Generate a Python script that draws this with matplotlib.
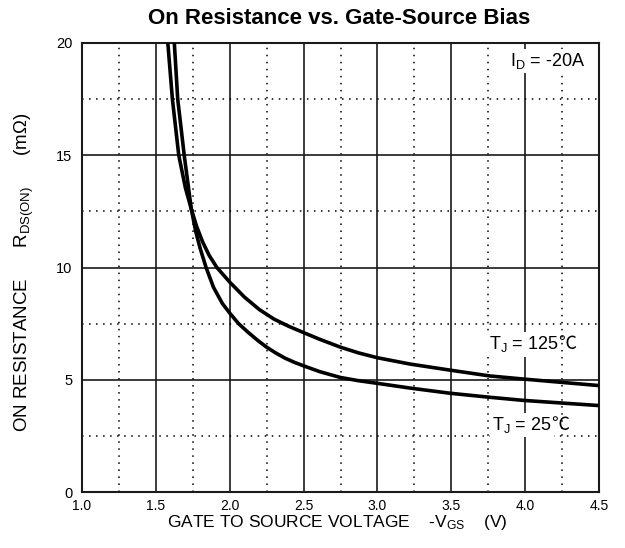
import matplotlib
matplotlib.use('Agg')
import matplotlib.pyplot as plt

# ---- data ----
vgs_25 = [1.625, 1.648, 1.692, 1.74, 1.77, 1.80, 1.84, 1.89, 1.95, 2.0, 2.06, 2.125, 2.19, 2.25, 2.31,
          2.375, 2.44, 2.5, 2.61, 2.75, 2.87, 3.0, 3.22, 3.49, 3.76, 3.99, 4.5]
r_25 = [20.0, 17.5, 15.0, 12.6, 11.6, 10.85, 10.0, 9.12, 8.4, 7.97, 7.5, 7.11, 6.75, 6.45, 6.2,
        5.96, 5.77, 5.62, 5.36, 5.1, 4.96, 4.84, 4.63, 4.4, 4.22, 4.08, 3.85]

vgs_125 = [1.581, 1.612, 1.655, 1.70, 1.74, 1.775, 1.816, 1.86, 1.913, 2.0, 2.1, 2.2, 2.3, 2.4, 2.5,
           2.61, 2.75, 2.87, 3.0, 3.22, 3.49, 3.76, 3.99, 4.5]
r_125 = [20.0, 17.5, 15.0, 13.55, 12.6, 11.85, 11.15, 10.55, 10.0, 9.35, 8.68, 8.13, 7.7, 7.38, 7.1,
         6.8, 6.45, 6.2, 5.98, 5.7, 5.43, 5.17, 5.03, 4.74]

x_ticks = [1.0, 1.5, 2.0, 2.5, 3.0, 3.5, 4.0, 4.5]
x_tick_labels = ['1.0', '1.5', '2.0', '2.5', '3.0', '3.5', '4.0', '4.5']
y_ticks = [0, 5, 10, 15, 20]
x_minor = [1.25, 1.75, 2.25, 2.75, 3.25, 3.75, 4.25]
y_minor = [2.5, 7.5, 12.5, 17.5]

title = 'On Resistance vs. Gate-Source Bias'
xlabel = 'GATE TO SOURCE VOLTAGE    -V$_{GS}$    (V)'
ylabel = 'ON RESISTANCE      R$_{DS(ON)}$      (mΩ)'
label_id = 'I$_{D}$ = -20A'
label_125 = 'T$_{J}$ = 125'
label_25 = 'T$_{J}$ = 25'
deg_c = '℃'

plt.rcParams['font.family'] = ['Liberation Sans', 'Noto Sans CJK SC', 'DejaVu Sans']
plt.rcParams['mathtext.fontset'] = 'custom'
plt.rcParams['mathtext.rm'] = 'Liberation Sans'
plt.rcParams['mathtext.it'] = 'Liberation Sans'
plt.rcParams['mathtext.default'] = 'regular'

W, H = 625, 548
fig = plt.figure(figsize=(W / 100, H / 100), dpi=100)
ax = fig.add_axes([82 / W, 56 / H, 517 / W, 449 / H])

ax.set_xlim(1.0, 4.5)
ax.set_ylim(0, 20)
ax.set_xticks(x_ticks)
ax.set_xticklabels(x_tick_labels)
ax.set_yticks(y_ticks)
ax.set_xticks(x_minor, minor=True)
ax.set_yticks(y_minor, minor=True)
ax.tick_params(which='both', length=0)
ax.tick_params(axis='x', pad=5, labelsize=10)
ax.tick_params(axis='y', pad=7, labelsize=10.5)

ax.grid(which='major', ls='-', color='#1a1a1a', lw=1.2, zorder=1)
ax.grid(which='minor', ls=(0, (1, 3.6)), color='black', lw=1.1, zorder=1)
ax.set_axisbelow(True)
for s in ax.spines.values():
    s.set_linewidth(1.5)
    s.set_color('#1a1a1a')

ax.plot(vgs_25, r_25, color='black', lw=2.6, zorder=4, solid_capstyle='butt', solid_joinstyle='round')
ax.plot(vgs_125, r_125, color='black', lw=2.6, zorder=4, solid_capstyle='butt', solid_joinstyle='round')

bbox = dict(facecolor='white', edgecolor='none', pad=1.5)
ax.text(4.41, 19.2, label_id, ha='right', va='center', fontsize=13, bbox=bbox, zorder=3)
t125 = ax.text(3.755, 6.35, label_125, ha='left', va='baseline', fontsize=13, bbox=bbox, zorder=3)
t25 = ax.text(3.776, 2.75, label_25, ha='left', va='baseline', fontsize=13, bbox=bbox, zorder=3)

fig.canvas.draw()
r = fig.canvas.get_renderer()
for t in (t125, t25):
    w_px = t.get_window_extent(renderer=r).width
    x0, y0 = t.get_position()
    ax.annotate(deg_c, xy=(x0, y0), xycoords='data', xytext=(w_px * 72 / 100 - 0.4, 0),
                textcoords='offset points', ha='left', va='baseline', fontsize=13,
                family=['Noto Sans CJK SC', 'DejaVu Sans'], zorder=3)

fig.text(339 / W, 1 - 18 / H, title, ha='center', va='center', fontsize=16, fontweight='bold')
fig.text(337 / W, 1 - 523 / H, xlabel, ha='center', va='center', fontsize=12.5)
fig.text(24 / W, 1 - 272 / H, ylabel, ha='center', va='center', fontsize=13.5, rotation=90)

fig.savefig('out.png', dpi=100)
